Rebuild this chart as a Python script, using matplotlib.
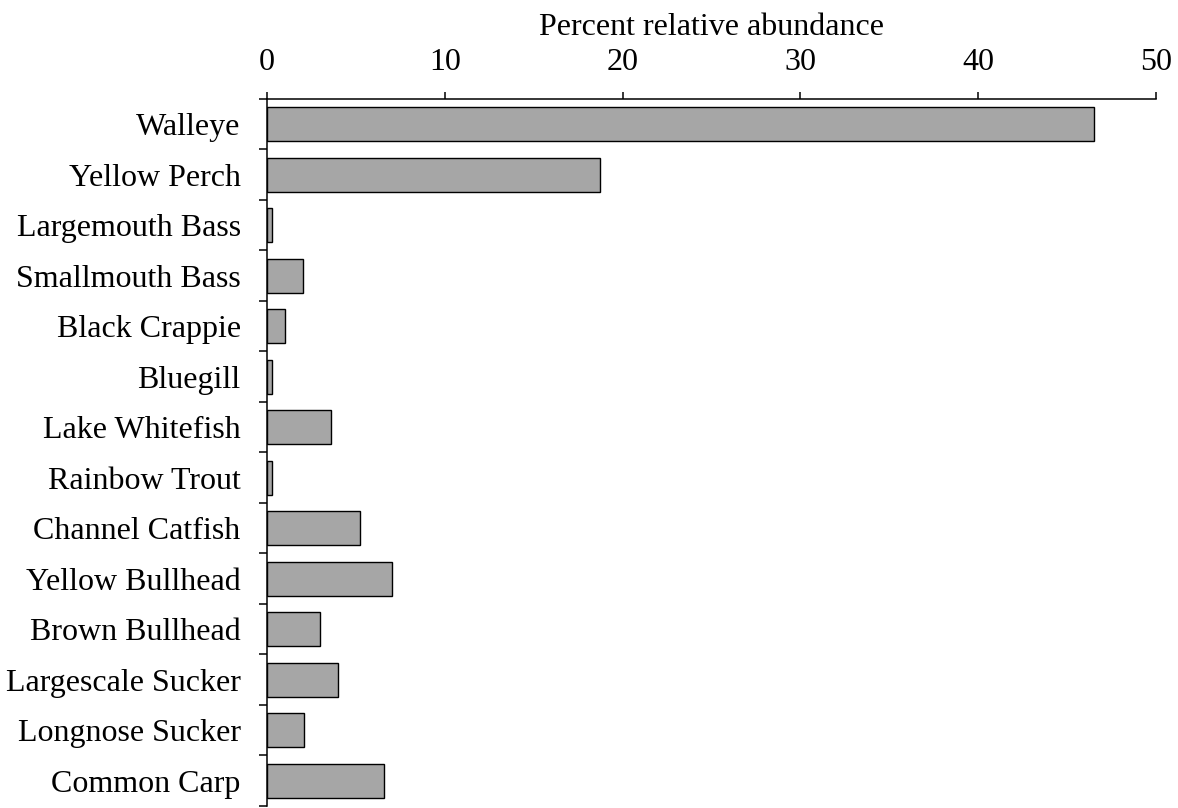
import numpy as np
import matplotlib
matplotlib.use("Agg")
import matplotlib.pyplot as plt

species = ["Walleye", "Yellow Perch", "Largemouth Bass", "Smallmouth Bass",
           "Black Crappie", "Bluegill", "Lake Whitefish", "Rainbow Trout",
           "Channel Catfish", "Yellow Bullhead", "Brown Bullhead",
           "Largescale Sucker", "Longnose Sucker", "Common Carp"]
abundance = [46.5, 18.7, 0.3, 2.0, 1.0, 0.3, 3.6, 0.3, 5.2, 7.0, 3.0, 4.0, 2.1, 6.6]
xticks = [0, 10, 20, 30, 40, 50]

plt.rcParams['font.family'] = ['Liberation Serif', 'DejaVu Serif']
fs = 23

fig = plt.figure(figsize=(11.78, 8.08), dpi=100)
ax = fig.add_axes([0.2267, 0.0025, 0.9813 - 0.2267, 0.8775 - 0.0025])

n = len(species)
ypos = np.arange(n)
ax.barh(ypos, abundance, height=0.67, color="#a6a6a6", edgecolor="black", linewidth=1.0)

ax.set_xlim(0, 50)
ax.set_ylim(n - 0.5, -0.5)
ax.xaxis.set_ticks_position("top")
ax.xaxis.set_label_position("top")
ax.set_xticks(xticks)
ax.tick_params(axis="x", direction="out", length=5, width=1.1, labelsize=fs, pad=10.5)
ax.set_xlabel("Percent relative abundance", fontsize=fs, labelpad=10)

# category boundaries get the ticks, names sit in between
ax.set_yticks(np.arange(n + 1) - 0.5)
ax.set_yticklabels([])
ax.tick_params(axis="y", which="major", direction="out", length=6, width=1.1)
ax.set_yticks(ypos, minor=True)
ax.set_yticklabels(species, minor=True, fontsize=fs)
ax.tick_params(axis="y", which="minor", length=0, pad=19)

for s in ["right", "bottom"]:
    ax.spines[s].set_visible(False)
for s in ["top", "left"]:
    ax.spines[s].set_linewidth(1.1)

fig.savefig("out.png", dpi=100)
